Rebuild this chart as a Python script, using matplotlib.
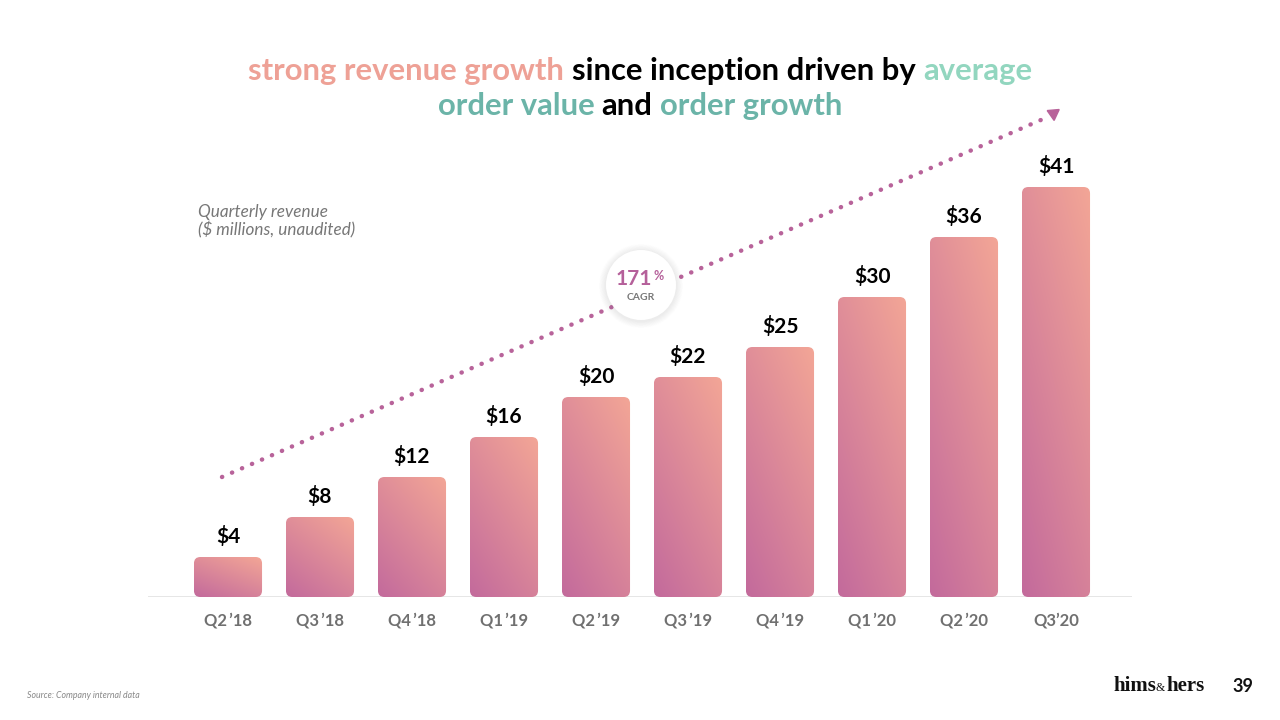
import numpy as np
import matplotlib
matplotlib.use("Agg")
import matplotlib.pyplot as plt
from matplotlib.patches import FancyBboxPatch, Circle

plt.rcParams['font.family'] = ['Lato', 'DejaVu Sans']

quarters = ["Q2\u2009’18", "Q3\u2009’18", "Q4\u2009’18", "Q1\u2009’19", "Q2\u2009’19",
            "Q3\u2009’19", "Q4\u2009’19", "Q1\u2009’20", "Q2\u2009’20", "Q3’20"]
revenue = [4, 8, 12, 16, 20, 22, 25, 30, 36, 41]
value_labels = ["$4", "$8", "$12", "$16", "$20", "$22", "$25", "$30", "$36", "$41"]
cagr_label = "171"

light = np.array([243, 166, 150]) / 255.0
dark = np.array([195, 106, 156]) / 255.0
arrow_col = "#b8639a"

fig = plt.figure(figsize=(12.8, 7.2), dpi=100)
fig.patch.set_facecolor("white")
ax = fig.add_axes([148 / 1280, 123 / 720, 984 / 1280, 500 / 720])
ax.set_xlim((148 - 228) / 92, (1132 - 228) / 92)
ax.set_ylim(0, 50)
ax.axis("off")

# gradient image, bottom-left dark -> top-right light
n = 64
u, v = np.meshgrid(np.linspace(0, 1, n), np.linspace(0, 1, n))
t = 0.4 * u + 0.6 * v
grad = dark[None, None, :] * (1 - t[..., None]) + light[None, None, :] * t[..., None]

bw = 0.74
x = np.arange(len(revenue))
for xi, val, lab, q in zip(x, revenue, value_labels, quarters):
    patch = FancyBboxPatch((xi - bw / 2, 0), bw, val,
                           boxstyle="round,pad=0,rounding_size=0.07",
                           mutation_aspect=9.2, facecolor="none", edgecolor="none")
    ax.add_patch(patch)
    im = ax.imshow(grad, extent=(xi - bw / 2, xi + bw / 2, 0, val), origin="lower",
                   aspect="auto", interpolation="bilinear", zorder=2)
    im.set_clip_path(patch)
    ax.text(xi, val + 2.0, lab, ha="center", va="center", fontsize=15,
            fontweight="bold", color="black", zorder=3)
    ax.text(xi, -2.4, q, ha="center", va="center",
            fontsize=12, fontweight="bold", color="#707070", clip_on=False)

ax.plot([(148 - 228) / 92, (1132 - 228) / 92], [0, 0], color="#e2e2e2", lw=1.2, zorder=1)

# dotted trend arrow
x0, y0 = (222 - 228) / 92, (597 - 477) / 10
x1, y1 = (1050 - 228) / 92, (597 - 116) / 10
ax.plot([x0, x1], [y0, y1], color=arrow_col, lw=3.2, linestyle=(0, (0.05, 2.4)),
        dash_capstyle="round", zorder=1, clip_on=False)
ax.plot([x1 + 0.03], [y1 + 0.3], marker=(3, 0, 185), markersize=10, color=arrow_col,
        clip_on=False, zorder=1)

# CAGR bubble with soft shadow
cx, cy, r = 6.41, (720 - 285) / 100, 0.35
for k in range(10):
    fig.add_artist(Circle((cx, cy - 0.01), r + 0.07 - k * 0.007, transform=fig.dpi_scale_trans,
                          facecolor="#999999", edgecolor="none", alpha=0.01, zorder=5))
fig.add_artist(Circle((cx, cy), r, transform=fig.dpi_scale_trans,
                      facecolor="white", edgecolor="none", zorder=6))
fig.text(652 / 1280, 1 - 279 / 720, cagr_label, ha="right", va="center", fontsize=15,
         fontweight="bold", color="#b5609a", zorder=7)
fig.text(654 / 1280, 1 - 276 / 720, "%", ha="left", va="center", fontsize=9,
         fontweight="bold", color="#b5609a", zorder=7)
fig.text(641 / 1280, 1 - 298 / 720, "CAGR", ha="center", va="center", fontsize=7.5,
         fontweight="bold", color="#777777", zorder=7)

# subtitle
fig.text(198 / 1280, 1 - 212 / 720, "Quarterly revenue", ha="left", va="center",
         fontsize=12.3, style="italic", color="#777777")
fig.text(198 / 1280, 1 - 230 / 720, "($ millions, unaudited)", ha="left", va="center",
         fontsize=12.3, style="italic", color="#777777")

# multi-colour title
renderer = fig.canvas.get_renderer()


def colored_line(parts, ypix, size):
    texts = []
    for s, c in parts:
        texts.append(fig.text(0, 1 - ypix / 720, s, fontsize=size, fontweight="bold",
                              color=c, ha="left", va="center"))
    widths = [tx.get_window_extent(renderer).width for tx in texts]
    a1 = fig.text(0, 0, "a a", fontsize=size, fontweight="bold")
    a2 = fig.text(0, 0, "aa", fontsize=size, fontweight="bold")
    space = a1.get_window_extent(renderer).width - a2.get_window_extent(renderer).width
    a1.remove()
    a2.remove()
    total = sum(widths) + space * (len(texts) - 1)
    xp = 640 - total / 2
    for tx, w in zip(texts, widths):
        tx.set_x(xp / 1280)
        xp += w + space


pink = "#eea196"
mint = "#92d6bf"
teal = "#6bb4a8"
colored_line([("strong revenue growth", pink), ("since inception driven by", "black"),
              ("average", mint)], 71, 22.3)
colored_line([("order value", teal), ("and", "black"), ("order growth", teal)], 106, 22.3)

# footer
fig.text(27 / 1280, 1 - 695 / 720, "Source: Company internal data", fontsize=6.3,
         style="italic", color="#888888", ha="left", va="center")
fig.text(1113 / 1280, 1 - 686 / 720, "hims", fontsize=15, fontweight="bold",
         family="Liberation Serif", color="#111111", ha="left", va="center")
fig.text(1156 / 1280, 1 - 688 / 720, "&", fontsize=8.5, family="Liberation Serif",
         color="#111111", ha="left", va="center")
fig.text(1166 / 1280, 1 - 686 / 720, "hers", fontsize=15, fontweight="bold",
         family="Liberation Serif", color="#111111", ha="left", va="center")
fig.text(1243 / 1280, 1 - 686 / 720, "39", fontsize=13, fontweight="bold",
         color="#111111", ha="center", va="center")

fig.savefig("out.png", dpi=100)
